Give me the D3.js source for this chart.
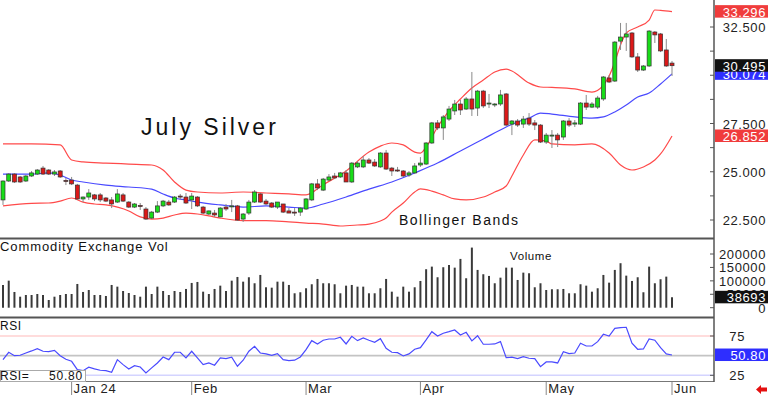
<!DOCTYPE html>
<html>
<head>
<meta charset="utf-8">
<script src="https://cdn.jsdelivr.net/npm/d3@7"></script>
<style>
  body { margin: 0; background: #fff; }
  svg { display: block; font-family: "Liberation Sans", Arial, sans-serif; }
</style>
</head>
<body>
<svg id="chart" width="768" height="395"></svg>
<script>
// July silver daily bars, mid Dec 2023 .. 3 Jun 2024 (118 sessions)
const open = [23.54,24.52,24.88,24.73,24.52,24.78,24.88,25.19,25.09,24.88,
  25.04,24.55,24.57,24.31,23.59,23.69,23.80,23.80,23.64,23.54,
  23.43,23.80,23.43,23.17,23.25,23.07,22.60,22.91,23.23,23.43,
  23.43,23.74,23.69,23.54,23.69,23.17,22.81,22.86,22.66,23.17,
  23.20,23.23,22.55,22.86,23.43,23.85,23.48,23.38,23.17,23.33,
  22.97,22.91,22.91,23.07,23.54,24.37,24.05,24.57,24.78,24.73,
  24.94,24.47,25.25,25.25,25.61,25.50,25.25,25.97,25.19,25.09,
  25.04,24.83,24.94,25.35,25.40,26.49,27.53,27.27,27.73,28.15,
  28.51,28.25,28.77,28.30,29.18,28.51,28.48,28.51,29.03,27.47,
  27.63,27.47,27.78,27.53,27.42,26.54,26.88,26.90,26.80,27.63,
  27.47,27.47,28.56,28.35,28.35,28.77,29.86,29.70,31.77,31.98,
  32.19,30.95,30.27,30.48,32.24,32.14,31.31,30.63];
const high = [24.55,24.93,24.93,24.78,24.83,25.04,25.14,25.30,25.14,25.09,
  25.09,24.68,24.73,24.37,23.72,24.10,23.85,23.90,23.69,23.69,
  24.10,23.90,23.48,23.38,23.38,23.17,22.97,23.48,23.54,23.54,
  23.74,23.85,23.90,23.90,23.74,23.23,22.99,23.02,23.17,23.33,
  23.54,23.28,22.86,23.54,24.05,23.90,23.59,23.43,23.43,23.33,
  23.12,23.12,23.17,23.64,24.42,24.62,24.68,24.88,24.94,24.99,
  25.09,25.50,25.55,25.81,25.71,25.66,26.02,26.13,25.25,25.25,
  25.09,25.04,25.45,25.76,26.54,27.58,27.68,27.94,28.41,28.72,
  28.72,28.87,30.17,29.24,29.24,29.03,28.56,29.24,29.08,27.68,
  27.73,27.89,28.04,27.68,27.47,27.01,27.16,27.01,27.68,27.78,
  27.68,28.61,28.98,28.61,28.93,29.96,30.01,31.77,32.71,32.71,
  32.24,31.15,30.53,32.34,32.29,32.19,31.88,30.74];
const low = [23.28,24.47,24.42,24.42,24.47,24.73,24.83,24.83,24.83,24.78,
  24.68,24.31,24.31,23.54,23.43,23.54,23.48,23.43,23.43,23.12,
  23.38,23.43,23.12,23.12,23.02,22.50,22.55,22.86,23.17,23.23,
  23.38,23.54,23.33,23.07,23.17,22.81,22.76,22.66,22.66,22.97,
  22.91,22.45,22.40,22.76,23.38,23.38,23.28,23.12,23.07,22.86,
  22.86,22.71,22.71,23.02,23.48,24.05,24.00,24.52,24.62,24.68,
  24.47,24.42,25.19,25.19,25.40,25.25,25.20,25.09,24.78,24.99,
  24.73,24.73,24.88,25.25,25.35,26.44,27.16,26.65,27.63,27.94,
  27.94,28.20,27.89,27.89,28.30,28.30,28.35,28.41,27.37,26.90,
  27.32,27.27,27.37,27.16,26.49,26.44,26.23,26.28,26.65,27.32,
  27.32,27.42,28.20,28.30,28.25,28.67,29.60,29.65,31.31,31.26,
  30.90,30.17,30.22,30.43,31.67,31.20,30.43,29.96];
const close = [24.52,24.88,24.47,24.47,24.78,24.94,25.09,24.88,24.88,24.99,
  24.73,24.50,24.37,23.59,23.69,23.90,23.59,23.54,23.48,23.33,
  23.85,23.48,23.17,23.33,23.20,22.55,22.91,23.23,23.48,23.28,
  23.69,23.69,23.38,23.74,23.23,22.86,22.97,22.76,23.12,23.07,
  23.23,22.50,22.81,23.43,23.95,23.43,23.33,23.17,23.43,22.91,
  22.86,22.88,23.12,23.59,24.37,24.16,24.62,24.73,24.68,24.94,
  24.47,25.45,25.45,25.61,25.45,25.30,25.97,25.14,25.04,25.04,
  24.78,24.94,25.30,25.45,26.49,27.53,27.27,27.84,28.25,28.51,
  28.20,28.77,28.25,29.18,28.41,28.56,28.51,28.98,27.42,27.63,
  27.42,27.73,27.47,27.42,26.54,26.90,26.90,26.65,27.63,27.42,
  27.53,28.56,28.35,28.51,28.82,29.91,29.65,31.72,31.98,32.14,
  30.95,30.27,30.48,32.29,32.09,31.26,30.48,30.495];

const volume = [84700,100700,58600,41000,47400,47400,51100,47400,28700,41000,
  47400,51100,51100,88400,58600,66000,47400,47400,43700,84700,
  78400,62300,54800,47400,41000,78400,51100,78400,62300,47400,
  62300,58600,69800,92200,95900,59700,51100,69800,82100,62300,
  100700,114500,97000,113400,91000,122000,76100,74600,97000,97000,
  84700,53700,57500,72400,87300,107100,91000,91000,87300,53700,
  82100,84700,78400,78400,53700,53700,72400,107100,59700,41000,
  78400,59700,76100,99600,143300,153000,113400,150700,159300,149200,
  181700,109700,223900,140700,124600,118300,91000,111900,149200,149200,
  103300,130600,128300,76100,91000,66000,68700,68700,69800,53700,
  53700,87300,82100,59700,72400,122000,93300,140700,165700,119400,
  99600,113400,57500,153000,91000,106000,115700,38693];

const rsi = [44.9,54.3,50.0,50.5,53.4,56.0,58.9,55.6,55.1,56.8,
  50.0,45.4,42.8,32.2,30.9,35.3,33.1,31.4,30.9,28.9,
  44.9,38.6,33.1,37.3,35.6,28.0,34.4,40.7,48.3,44.9,
  54.3,54.3,47.1,55.6,47.1,38.6,40.7,37.8,47.1,46.2,
  48.0,36.5,44.2,55.6,61.9,53.4,52.2,50.5,52.5,44.9,
  43.6,44.2,48.3,57.6,69.1,64.9,69.6,71.2,71.2,73.4,
  64.9,74.6,69.1,72.5,69.6,67.0,71.6,59.4,54.3,53.8,
  49.6,52.2,58.1,60.2,70.0,80.5,75.0,78.5,80.5,82.7,
  76.3,79.7,68.7,75.4,64.5,64.5,64.9,67.8,47.5,48.0,
  46.2,48.7,46.7,46.2,36.0,42.0,42.0,40.7,55.1,52.5,
  53.4,65.8,62.3,62.3,67.8,77.2,75.0,84.8,85.6,86.1,
  65.8,58.1,58.5,71.2,69.6,60.2,52.2,50.80];

// Bollinger bands at these bar numbers
const upperIdx = [0,5,10,12,14,18,22,26,28,30,32,34,38,42,46,50,53,56,60,64,66,68,70,72,73,74,76,78,80,82,84,86,88,89,92,94,96,100,103,105,106,107,108,109,111,113,114,115,117];
const upperVal = [26.44,26.44,26.39,25.61,25.51,25.45,25.40,25.35,25.09,24.47,24.05,23.95,23.90,23.95,23.90,23.85,23.80,24.33,25.04,26.02,26.33,26.49,26.39,26.02,25.97,26.28,27.32,28.15,28.77,29.34,29.75,30.17,30.32,30.22,29.60,29.39,29.37,29.29,29.13,29.49,29.96,30.69,31.57,32.19,32.50,32.86,33.38,33.36,33.296];
const midIdx = [0,5,8,10,12,14,18,22,26,28,30,32,34,38,42,46,50,53,56,60,64,68,72,76,80,84,88,90,92,94,96,100,103,105,107,109,111,113,115,117];
const midVal = [24.88,24.88,24.94,24.83,24.57,24.47,24.31,24.21,24.10,23.85,23.64,23.54,23.43,23.28,23.17,23.23,23.17,23.12,23.33,23.69,24.10,24.47,24.94,25.45,26.08,26.70,27.32,27.58,27.78,28.04,27.99,27.84,27.78,27.84,28.10,28.46,28.87,29.08,29.55,30.074];
const lowerIdx = [0,5,8,10,12,14,16,18,22,24,26,28,30,32,34,36,38,42,46,50,53,56,59,62,64,66,67,68,70,72,73,75,77,79,81,84,86,88,89,91,93,95,96,100,103,106,108,110,112,114,115,117];
const lowerVal = [23.23,23.36,23.38,23.48,23.64,23.43,23.33,23.28,22.97,22.66,22.55,22.60,22.76,22.86,22.81,22.71,22.60,22.47,22.47,22.40,22.34,22.29,22.19,22.24,22.29,22.45,22.60,22.91,23.38,23.95,24.11,24.00,23.80,23.59,23.54,23.69,23.95,24.26,24.78,25.87,26.65,26.59,26.44,26.39,26.44,25.97,25.35,25.09,25.25,25.61,25.92,26.852];

const monthIdx = [12, 33, 53, 73, 95, 117];
const monthLabels = ["Jan 24", "Feb", "Mar", "Apr", "May", "Jun"];
const priceTicks = [22.5, 25, 27.5, 32.5];   // 30.000 sits under the value boxes
const volumeTicks = [0, 50000, 100000, 150000, 200000];
const rsiTicks = [25, 75];

const svg = d3.select("#chart");
const axisX = 714;
const last = close.length - 1;

const x = d3.scaleLinear().domain([0, last]).range([3, 672]);
const yP = d3.scaleLinear().domain([22.5, 32.5]).range([220, 27]);
const yV = d3.scaleLinear().domain([0, 200000]).range([307.7, 254]);
const yR = d3.scaleLinear().domain([25, 75]).range([375.3, 336]);

// ---- RSI panel
[[75, "#ffd0d0"], [50, "#c4c4c4"], [25, "#d4d4ff"]].forEach(([v, c]) => {
  svg.append("line").attr("x1", 0).attr("x2", axisX)
    .attr("y1", yR(v)).attr("y2", yR(v))
    .attr("stroke", c).attr("stroke-width", 1.6);
});
svg.append("path").datum(rsi)
  .attr("fill", "none").attr("stroke", "#4a4aff").attr("stroke-width", 1.2)
  .attr("d", d3.line().x((d, i) => x(i)).y(d => yR(d)));

// ---- bands
const band = (idx, vals, color) => {
  svg.append("path").datum(idx.map((d, k) => [d, vals[k]]))
    .attr("fill", "none").attr("stroke", color).attr("stroke-width", 1.2)
    .attr("d", d3.line().curve(d3.curveMonotoneX).x(d => x(d[0])).y(d => yP(d[1])));
};
band(upperIdx, upperVal, "#ff4a4a");
band(lowerIdx, lowerVal, "#ff4a4a");
band(midIdx, midVal, "#4a4aff");

// ---- candles
const candles = svg.append("g").selectAll("g").data(close).join("g");
candles.append("line")
  .attr("x1", (d, i) => x(i)).attr("x2", (d, i) => x(i))
  .attr("y1", (d, i) => yP(high[i])).attr("y2", (d, i) => yP(low[i]))
  .attr("stroke", "#8a8a8a").attr("stroke-width", 1);
candles.append("rect")
  .attr("x", (d, i) => x(i) - 2)
  .attr("width", 4)
  .attr("y", (d, i) => yP(Math.max(open[i], d)))
  .attr("height", (d, i) => Math.max(1, Math.abs(yP(open[i]) - yP(d))))
  .attr("fill", (d, i) => d >= open[i] ? "#18dc18" : "#dc1818")
  .attr("stroke", "#333").attr("stroke-width", 0.7);

// ---- volume
svg.append("g").selectAll("line").data(volume).join("line")
  .attr("x1", (d, i) => x(i)).attr("x2", (d, i) => x(i))
  .attr("y1", yV(0)).attr("y2", d => yV(d))
  .attr("stroke", "#3a3a3a").attr("stroke-width", 2);

// ---- frame
svg.append("rect").attr("x", 0).attr("y", 237.5).attr("width", axisX).attr("height", 2).attr("fill", "#555");
svg.append("rect").attr("x", 0).attr("y", 316.5).attr("width", axisX).attr("height", 2).attr("fill", "#555");
svg.append("line").attr("x1", 0).attr("x2", axisX).attr("y1", 381.5).attr("y2", 381.5)
  .attr("stroke", "#777").attr("stroke-width", 1);
svg.append("line").attr("x1", axisX).attr("x2", axisX).attr("y1", 0).attr("y2", 382)
  .attr("stroke", "#555").attr("stroke-width", 1.5);

// ---- right axes
const labelFont = (sel) => sel.attr("font-size", 13).attr("letter-spacing", "0.6px").attr("fill", "#222");
const tickMark = (y) => svg.append("line").attr("x1", axisX - 4).attr("x2", axisX)
  .attr("y1", y).attr("y2", y).attr("stroke", "#555").attr("stroke-width", 1);

d3.range(22.5, 33.1, 1.25).forEach(v => tickMark(yP(v)));
priceTicks.forEach(v => {
  svg.append("text").attr("x", 766).attr("y", yP(v) + 5).attr("text-anchor", "end")
    .text(d3.format(".3f")(v)).call(labelFont);
});
volumeTicks.forEach(v => {
  tickMark(yV(v));
  svg.append("text").attr("x", 766).attr("y", yV(v) + 5).attr("text-anchor", "end")
    .text(v).call(labelFont);
});
rsiTicks.forEach(v => {
  tickMark(yR(v));
  svg.append("text").attr("x", 745).attr("y", yR(v) + 5).attr("text-anchor", "end")
    .text(v).call(labelFont);
});

// current value boxes
const valueBox = (y, label, bg) => {
  svg.append("rect").attr("x", axisX + 1).attr("y", y - 6.5).attr("width", 768 - axisX - 1).attr("height", 12.5).attr("fill", bg);
  svg.append("text").attr("x", 766).attr("y", y + 5).attr("text-anchor", "end")
    .text(label).call(labelFont).attr("fill", "#fff");
};
valueBox(yP(upperVal[upperVal.length - 1]), d3.format(".3f")(upperVal[upperVal.length - 1]), "#f03c3c");
valueBox(yP(lowerVal[lowerVal.length - 1]), d3.format(".3f")(lowerVal[lowerVal.length - 1]), "#f03c3c");
valueBox(yP(midVal[midVal.length - 1]), d3.format(".3f")(midVal[midVal.length - 1]), "#2e2eff");
valueBox(yP(close[last]), d3.format(".3f")(close[last]), "#111");
valueBox(yV(volume[last]), volume[last], "#111");
valueBox(yR(rsi[last]), d3.format(".2f")(rsi[last]), "#2e2eff");

// ---- date axis
monthIdx.forEach((m, k) => {
  svg.append("line").attr("x1", x(m)).attr("x2", x(m)).attr("y1", 382).attr("y2", 395)
    .attr("stroke", "#888").attr("stroke-width", 1);
  svg.append("text").attr("x", x(m) + 2).attr("y", 393).text(monthLabels[k]).call(labelFont);
});

// red arrow bottom right
svg.append("path").attr("d", "M756,389.5 L761,385 L761,387.5 L767,387.5 L767,391.5 L761,391.5 L761,394 Z")
  .attr("fill", "#e41010");

// ---- titles
svg.append("text").attr("x", 141).attr("y", 135).attr("font-size", 23).attr("letter-spacing", "3px")
  .attr("fill", "#111").text("July Silver");
svg.append("text").attr("x", 399).attr("y", 225).attr("font-size", 14).attr("letter-spacing", "1.5px")
  .attr("fill", "#111").text("Bollinger Bands");
svg.append("text").attr("x", 0).attr("y", 251).attr("font-size", 13).attr("letter-spacing", "0.9px")
  .attr("fill", "#111").text("Commodity Exchange Vol");
svg.append("text").attr("x", 510).attr("y", 260).attr("font-size", 11.5).attr("letter-spacing", "0.6px")
  .attr("fill", "#111").text("Volume");
svg.append("text").attr("x", 0).attr("y", 330).attr("font-size", 12).attr("letter-spacing", "0.5px")
  .attr("fill", "#111").text("RSI");

// RSI readout
svg.append("rect").attr("x", 0.5).attr("y", 370.5).attr("width", 85).attr("height", 11)
  .attr("fill", "#fff").attr("stroke", "#aaa");
svg.append("text").attr("x", 0).attr("y", 380).attr("font-size", 12).attr("letter-spacing", "0.6px")
  .attr("fill", "#111").text("RSI=");
svg.append("text").attr("x", 83).attr("y", 380).attr("text-anchor", "end").attr("font-size", 12)
  .attr("letter-spacing", "0.8px").attr("fill", "#111").text(d3.format(".2f")(rsi[last]));
</script>
</body>
</html>
